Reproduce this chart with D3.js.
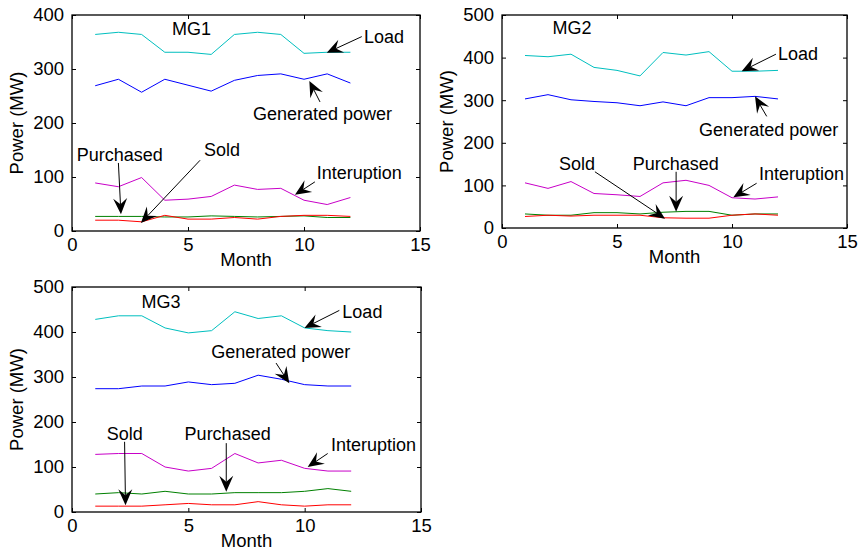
<!DOCTYPE html>
<html>
<head>
<meta charset="utf-8">
<script src="https://cdn.jsdelivr.net/npm/d3@7"></script>
<style>
  body { margin: 0; background: #fff; }
  svg { display: block; font-family: Arial, "Liberation Sans", sans-serif; }
</style>
</head>
<body>
<svg id="chart" width="858" height="551"></svg>
<script>
// months on the x axis
const months = [1, 2, 3, 4, 5, 6, 7, 8, 9, 10, 11, 12];
const xTicks = [0, 5, 10, 15];

// MG1 series (MW)
const mg1Load = [364, 368, 364, 331, 331, 327, 364, 368, 364, 329, 331, 331];
const mg1Gen = [269, 281, 257, 281, 270, 259, 279, 288, 291, 281, 291, 274];
const mg1Int = [89, 82, 99, 57, 59, 64, 85, 77, 79, 57, 49, 62];
const mg1Pur = [27, 27, 27, 26, 26, 28, 27, 26, 27, 28, 25, 25];
const mg1Sold = [20, 20, 17, 29, 22, 22, 25, 22, 27, 29, 29, 27];

// MG2 series (MW)
const mg2Load = [405, 402, 408, 377, 370, 357, 412, 406, 414, 368, 368, 370];
const mg2Gen = [303, 313, 301, 297, 294, 287, 296, 287, 306, 306, 309, 303];
const mg2Int = [106, 93, 109, 81, 78, 74, 106, 112, 100, 71, 68, 73];
const mg2Pur = [33, 30, 30, 36, 36, 33, 37, 39, 39, 30, 33, 33];
const mg2Sold = [27, 30, 28, 30, 30, 30, 24, 23, 23, 30, 33, 30];

// MG3 series (MW)
const mg3Load = [428, 436, 436, 409, 398, 403, 445, 430, 436, 409, 403, 400];
const mg3Gen = [274, 274, 280, 280, 289, 283, 286, 304, 295, 283, 280, 280];
const mg3Int = [128, 130, 130, 100, 91, 97, 130, 109, 115, 97, 91, 91];
const mg3Pur = [40, 43, 40, 46, 40, 40, 43, 43, 43, 46, 52, 46];
const mg3Sold = [13, 13, 13, 16, 19, 16, 16, 23, 16, 13, 16, 16];

// annotations: [label, textX, textY, arrowFromX, arrowFromY, arrowToX, arrowToY] in data units
const mg1Notes = [
  ['Load', 12.59, 348, 12.49, 360, 10.98, 330],
  ['Generated power', 7.8, 206, 10.69, 239, 10.23, 278],
  ['Purchased', 0.2, 130, 2.0, 126, 2.11, 31],
  ['Sold', 5.69, 139, 5.52, 131, 2.97, 15],
  ['Interuption', 10.55, 96, 10.47, 91, 9.61, 67],
];
const mg2Notes = [
  ['Load', 12.0, 394, 11.91, 408, 10.42, 368],
  ['Generated power', 8.57, 217, 11.51, 262, 11.0, 309],
  ['Sold', 2.48, 136, 4.04, 132, 7.09, 22],
  ['Purchased', 5.68, 136, 7.57, 132, 7.57, 38],
  ['Interuption', 11.17, 113, 11.07, 105, 10.06, 72],
];
const mg3Notes = [
  ['Load', 11.62, 432, 11.49, 448, 9.99, 409],
  ['Generated power', 5.98, 343, 8.77, 331, 9.34, 286],
  ['Sold', 1.49, 160, 2.26, 156, 2.3, 15],
  ['Purchased', 4.84, 160, 6.63, 153, 6.63, 45],
  ['Interuption', 11.13, 135, 10.99, 130, 10.13, 100],
];

const colors = { load: '#00bfbf', gen: '#0000ff', int: '#c800c8', pur: '#008000', sold: '#ff0000' };

const panels = [
  { title: 'MG1', titleX: 4.31, titleY: 363, yMax: 400, box: [72, 15, 420, 231],
    series: { load: mg1Load, gen: mg1Gen, int: mg1Int, pur: mg1Pur, sold: mg1Sold }, notes: mg1Notes },
  { title: 'MG2', titleX: 2.2, titleY: 455, yMax: 500, box: [502, 15, 847, 228],
    series: { load: mg2Load, gen: mg2Gen, int: mg2Int, pur: mg2Pur, sold: mg2Sold }, notes: mg2Notes },
  { title: 'MG3', titleX: 2.99, titleY: 454, yMax: 500, box: [72, 287, 421, 512],
    series: { load: mg3Load, gen: mg3Gen, int: mg3Int, pur: mg3Pur, sold: mg3Sold }, notes: mg3Notes },
];

const svg = d3.select('#chart');

// draw a MATLAB-like filled arrow head (vback2) pointing at (x2, y2)
function arrow(g, x1, y1, x2, y2) {
  const a = Math.atan2(y2 - y1, x2 - x1);
  const len = 16, half = 7, notch = 10;
  const pt = (d, o) => [x2 - d * Math.cos(a) - o * Math.sin(a), y2 - d * Math.sin(a) + o * Math.cos(a)];
  g.append('line')
    .attr('x1', x1).attr('y1', y1)
    .attr('x2', pt(notch, 0)[0]).attr('y2', pt(notch, 0)[1])
    .attr('stroke', '#000').attr('stroke-width', 1);
  g.append('path')
    .attr('d', d3.line()([[x2, y2], pt(len, half), pt(notch, 0), pt(len, -half)]) + 'Z')
    .attr('fill', '#000');
}

panels.forEach((p) => {
  const [x0, y0, x1, y1] = p.box;
  const x = d3.scaleLinear().domain([0, 15]).range([x0, x1]);
  const y = d3.scaleLinear().domain([0, p.yMax]).range([y1, y0]);
  const g = svg.append('g');

  // series lines
  const line = d3.line().x((d, i) => x(months[i])).y((d) => y(d));
  ['load', 'gen', 'int', 'pur', 'sold'].forEach((k) => {
    g.append('path')
      .datum(p.series[k])
      .attr('d', line)
      .attr('fill', 'none')
      .attr('stroke', colors[k])
      .attr('stroke-width', 1);
  });

  // axes with inward ticks, MATLAB style box
  const yTicks = d3.range(0, p.yMax + 1, 100);
  g.append('g').attr('transform', `translate(0,${y1})`)
    .call(d3.axisBottom(x).tickValues(xTicks).tickSize(-4).tickPadding(7))
    .call((a) => a.select('.domain').remove());
  g.append('g').attr('transform', `translate(0,${y0})`)
    .call(d3.axisTop(x).tickValues(xTicks).tickSize(-4).tickFormat(''))
    .call((a) => a.select('.domain').remove());
  g.append('g').attr('transform', `translate(${x0},0)`)
    .call(d3.axisLeft(y).tickValues(yTicks).tickSize(-4).tickPadding(8))
    .call((a) => a.select('.domain').remove());
  g.append('g').attr('transform', `translate(${x1},0)`)
    .call(d3.axisRight(y).tickValues(yTicks).tickSize(-4).tickFormat(''))
    .call((a) => a.select('.domain').remove());
  g.selectAll('.tick text').attr('font-size', 18.5).attr('fill', '#000')
    .attr('font-family', 'Arial, "Liberation Sans", sans-serif');
  g.selectAll('.tick line').attr('stroke', '#000');
  g.append('rect')
    .attr('x', x0).attr('y', y0).attr('width', x1 - x0).attr('height', y1 - y0)
    .attr('fill', 'none').attr('stroke', '#000').attr('stroke-width', 1.3);

  // axis titles
  g.append('text')
    .attr('x', (x0 + x1) / 2).attr('y', y1 + 35)
    .attr('text-anchor', 'middle').attr('font-size', 18.5)
    .text('Month');
  g.append('text')
    .attr('transform', `translate(${x0 - 49},${(y0 + y1) / 2}) rotate(-90)`)
    .attr('text-anchor', 'middle').attr('font-size', 18.5)
    .text('Power (MW)');

  // panel title
  g.append('text')
    .attr('x', x(p.titleX)).attr('y', y(p.titleY))
    .attr('font-size', 18)
    .text(p.title);

  // annotations
  p.notes.forEach(([label, tx, ty, ax1, ay1, ax2, ay2]) => {
    g.append('text')
      .attr('x', x(tx)).attr('y', y(ty))
      .attr('font-size', 18)
      .text(label);
    arrow(g, x(ax1), y(ay1), x(ax2), y(ay2));
  });
});
</script>
</body>
</html>
